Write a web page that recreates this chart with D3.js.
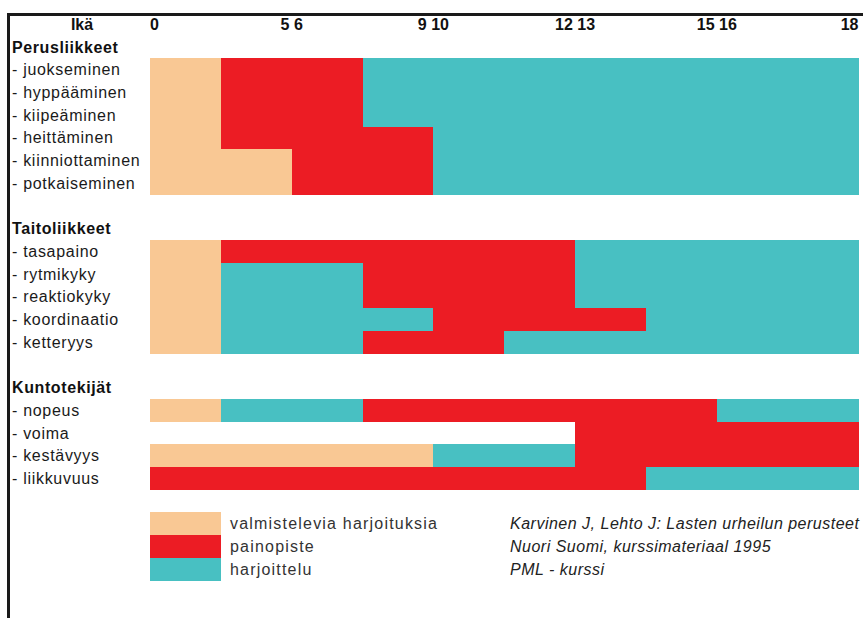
<!DOCTYPE html>
<html>
<head>
<meta charset="utf-8">
<script src="https://cdn.jsdelivr.net/npm/d3@7"></script>
<style>
  body { margin: 0; background: #fff; }
  text { font-family: 'Liberation Sans', Arial, sans-serif; }
</style>
</head>
<body>
<div id="chart"></div>
<script>
'use strict';

// age columns (10 equal columns), tick labels sit on column edges
var tickLabels = ['0', '5 6', '9 10', '12 13', '15 16', '18'];
var tickCols = [0, 2, 4, 6, 8, 10];

// v = valmistelevia harjoituksia, p = painopiste, h = harjoittelu, '-' = tyhjä
var perusLabels = ['- juokseminen', '- hyppääminen', '- kiipeäminen',
                   '- heittäminen', '- kiinniottaminen', '- potkaiseminen'];
var perusCells = [
    'vpphhhhhhh',
    'vpphhhhhhh',
    'vpphhhhhhh',
    'vppphhhhhh',
    'vvpphhhhhh',
    'vvpphhhhhh'
];

var taitoLabels = ['- tasapaino', '- rytmikyky', '- reaktiokyky',
                   '- koordinaatio', '- ketteryys'];
var taitoCells = [
    'vppppphhhh',
    'vhhppphhhh',
    'vhhppphhhh',
    'vhhhppphhh',
    'vhhpphhhhh'
];

var kuntoLabels = ['- nopeus', '- voima', '- kestävyys', '- liikkuvuus'];
var kuntoCells = [
    'vhhppppphh',
    '------pppp',
    'vvvvhhpppp',
    'ppppppphhh'
];

var groupNames = ['Perusliikkeet', 'Taitoliikkeet', 'Kuntotekijät'];

var legendCodes = ['v', 'p', 'h'];
var legendLabels = ['valmistelevia harjoituksia', 'painopiste', 'harjoittelu'];
var sourceLines = ['Karvinen J, Lehto J: Lasten urheilun perusteet',
                   'Nuori Suomi, kurssimateriaal 1995',
                   'PML - kurssi'];

var colors = {v: '#f9c894', p: '#ec1c24', h: '#48c0c2'};

var W = 863, H = 618;

var svg = d3.select('#chart').append('svg')
    .attr('width', W)
    .attr('height', H);

var x = d3.scaleLinear().domain([0, 10]).range([150, 858.5]);
// one grid row = one spreadsheet row
var y = d3.scaleLinear().domain([0, 1]).range([13, 35.7]);
var rowH = y(1) - y(0);

// build list of rows: header, group heading, items, blank...
var groups = [
    {name: groupNames[0], labels: perusLabels, cells: perusCells},
    {name: groupNames[1], labels: taitoLabels, cells: taitoCells},
    {name: groupNames[2], labels: kuntoLabels, cells: kuntoCells}
];

var headings = [], items = [];
var r = 1;
groups.forEach(function(g) {
    headings.push({name: g.name, row: r});
    r++;
    g.labels.forEach(function(l, i) {
        items.push({label: l, cells: g.cells[i], row: r});
        r++;
    });
    r++; // blank row
});
var legendRow = r;

// merge equal neighbouring cells into segments
var segments = [];
items.forEach(function(it) {
    var c = it.cells, start = 0;
    for (var i = 1; i <= c.length; i++) {
        if (i == c.length || c[i] != c[start]) {
            if (c[start] != '-')
                segments.push({row: it.row, x0: start, x1: i, code: c[start]});
            start = i;
        }
    }
});

svg.append('g').selectAll('rect')
    .data(segments)
    .enter().append('rect')
        .attr('x', function(d) { return x(d.x0); })
        .attr('y', function(d) { return y(d.row); })
        .attr('width', function(d) { return x(d.x1) - x(d.x0); })
        .attr('height', rowH + 0.3) // tiny overlap so rows join
        .attr('fill', function(d) { return colors[d.code]; })
        .attr('shape-rendering', 'crispEdges');

// frame lines
svg.append('line')
    .attr('x1', 7).attr('x2', W)
    .attr('y1', 14.5).attr('y2', 14.5)
    .attr('stroke', '#1a1a1a').attr('stroke-width', 3);
svg.append('line')
    .attr('x1', 8.5).attr('x2', 8.5)
    .attr('y1', 13).attr('y2', H)
    .attr('stroke', '#1a1a1a').attr('stroke-width', 3);

// header row
svg.append('text')
    .attr('x', 82).attr('y', y(0.5))
    .attr('dy', '0.35em')
    .attr('text-anchor', 'middle')
    .attr('font-size', 16).attr('font-weight', 'bold')
    .attr('fill', '#111')
    .text('Ikä');

svg.append('g').selectAll('text')
    .data(tickLabels)
    .enter().append('text')
        .attr('x', function(d, i) { return x(tickCols[i]); })
        .attr('y', y(0.5))
        .attr('dy', '0.35em')
        .attr('text-anchor', function(d, i) {
            if (i == 0) return 'start';
            if (i == tickLabels.length - 1) return 'end';
            return 'middle';
        })
        .attr('font-size', 16).attr('font-weight', 'bold')
        .attr('fill', '#111')
        .text(function(d) { return d; });

svg.append('g').selectAll('text')
    .data(headings)
    .enter().append('text')
        .attr('x', 12)
        .attr('y', function(d) { return y(d.row + 0.5); })
        .attr('dy', '0.35em')
        .attr('font-size', 16).attr('font-weight', 'bold')
        .attr('letter-spacing', 0.6)
        .attr('fill', '#111')
        .text(function(d) { return d.name; });

svg.append('g').selectAll('text')
    .data(items)
    .enter().append('text')
        .attr('x', 12)
        .attr('y', function(d) { return y(d.row + 0.5); })
        .attr('dy', '0.35em')
        .attr('font-size', 16)
        .attr('letter-spacing', 0.7)
        .attr('fill', '#1a1a1a')
        .text(function(d) { return d.label; });

// legend
var leg = svg.append('g');
leg.selectAll('rect')
    .data(legendCodes)
    .enter().append('rect')
        .attr('x', x(0))
        .attr('y', function(d, i) { return y(legendRow + i); })
        .attr('width', x(1) - x(0))
        .attr('height', rowH + 0.3)
        .attr('fill', function(d) { return colors[d]; })
        .attr('shape-rendering', 'crispEdges');

leg.selectAll('text.lab')
    .data(legendLabels)
    .enter().append('text')
        .attr('class', 'lab')
        .attr('x', 230)
        .attr('y', function(d, i) { return y(legendRow + i + 0.5); })
        .attr('dy', '0.35em')
        .attr('font-size', 16)
        .attr('letter-spacing', 1.2)
        .attr('fill', '#333')
        .text(function(d) { return d; });

leg.selectAll('text.src')
    .data(sourceLines)
    .enter().append('text')
        .attr('class', 'src')
        .attr('x', 510)
        .attr('y', function(d, i) { return y(legendRow + i + 0.5); })
        .attr('dy', '0.35em')
        .attr('font-size', 16)
        .attr('font-style', 'italic')
        .attr('letter-spacing', 0.5)
        .attr('fill', '#222')
        .text(function(d) { return d; });
</script>
</body>
</html>
